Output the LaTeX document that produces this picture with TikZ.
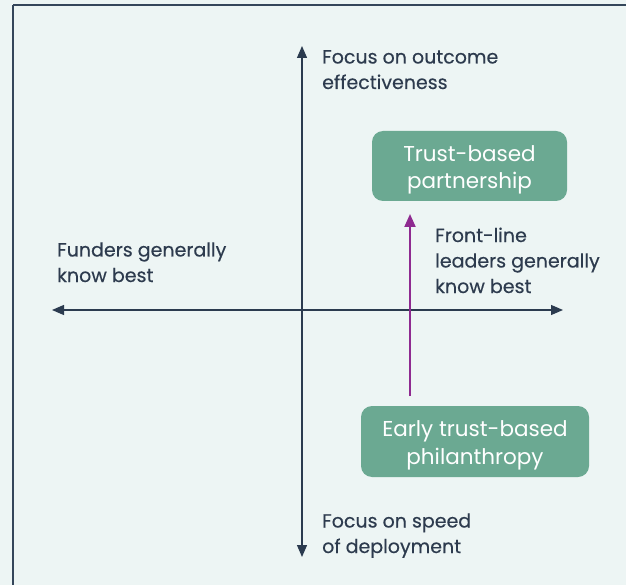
\documentclass[tikz,border=0pt]{standalone}
\usepackage{fontspec}
\setmainfont{Poppins}
\newfontfamily\labelfont[FakeBold=0.35]{Poppins}
\usetikzlibrary{arrows.meta}
\definecolor{bgpale}{HTML}{EDF5F4}
\definecolor{framec}{HTML}{34465A}
\definecolor{axisc}{HTML}{2B3B4F}
\definecolor{inkc}{HTML}{2D3B4E}
\definecolor{boxgreen}{HTML}{6BA992}
\definecolor{shiftc}{HTML}{8E2A90}
\begin{document}
\begin{tikzpicture}[x=1pt,y=-1pt,
  axis/.style={draw=axisc,line width=1.3pt,-{Triangle[length=12pt,width=10pt]}},
  shiftarrow/.style={draw=shiftc,line width=2pt,-{Triangle[length=13pt,width=11pt]}},
  stage/.style={fill=boxgreen,rounded corners=11pt,inner sep=0pt},
  stagetext/.style={text=white,align=center,inner sep=0pt,yshift=-4pt,
    font=\fontsize{21.5}{27.5}\selectfont},
  lbl/.style={text=inkc,align=left,anchor=base west,inner sep=0pt,
    font=\labelfont\fontsize{19}{25.5}\selectfont}]
  % canvas and frame
  \fill[bgpale] (0,0) rectangle (626,585);
  \useasboundingbox (0,0) rectangle (626,585);
  \draw[framec,line width=2.5pt] (13,5) -- (640,5);
  \draw[framec,line width=2.5pt] (13,5) -- (13,600);
  % axis ends
  \coordinate (origin) at (302,310);
  \coordinate (top) at (302,46);
  \coordinate (bot) at (302,557);
  \coordinate (lft) at (52,310);
  \coordinate (rgt) at (563,310);
  \draw[axis] (origin) -- (top);
  \draw[axis] (origin) -- (bot);
  \draw[axis] (origin) -- (lft);
  \draw[axis] (origin) -- (rgt);
  % stages
  \node[stage,minimum width=195pt,minimum height=70pt] (tbp) at (469.5,166) {};
  \node[stagetext] (tbptext) at (tbp.center) {Trust-based\\partnership};
  \node[stage,minimum width=228pt,minimum height=71pt] (early) at (475,441.5) {};
  \node[stagetext] (earlytext) at (early.center) {Early trust-based\\philanthropy};
  \coordinate (shiftstart) at (410,396);
  \coordinate (shiftend) at (410,214);
  \draw[shiftarrow] (shiftstart) -- (shiftend);
  % axis labels (anchored at the baseline of the last line)
  \node[lbl] (ltop) at (322,89) {Focus on outcome\\effectiveness};
  \node[lbl] (lbot) at (322,553) {Focus on speed\\of deployment};
  \node[lbl] (llft) at (57,282) {Funders generally\\know best};
  \node[lbl] (lrgt) at (435,293) {Front-line\\leaders generally\\know best};
\end{tikzpicture}
\end{document}
